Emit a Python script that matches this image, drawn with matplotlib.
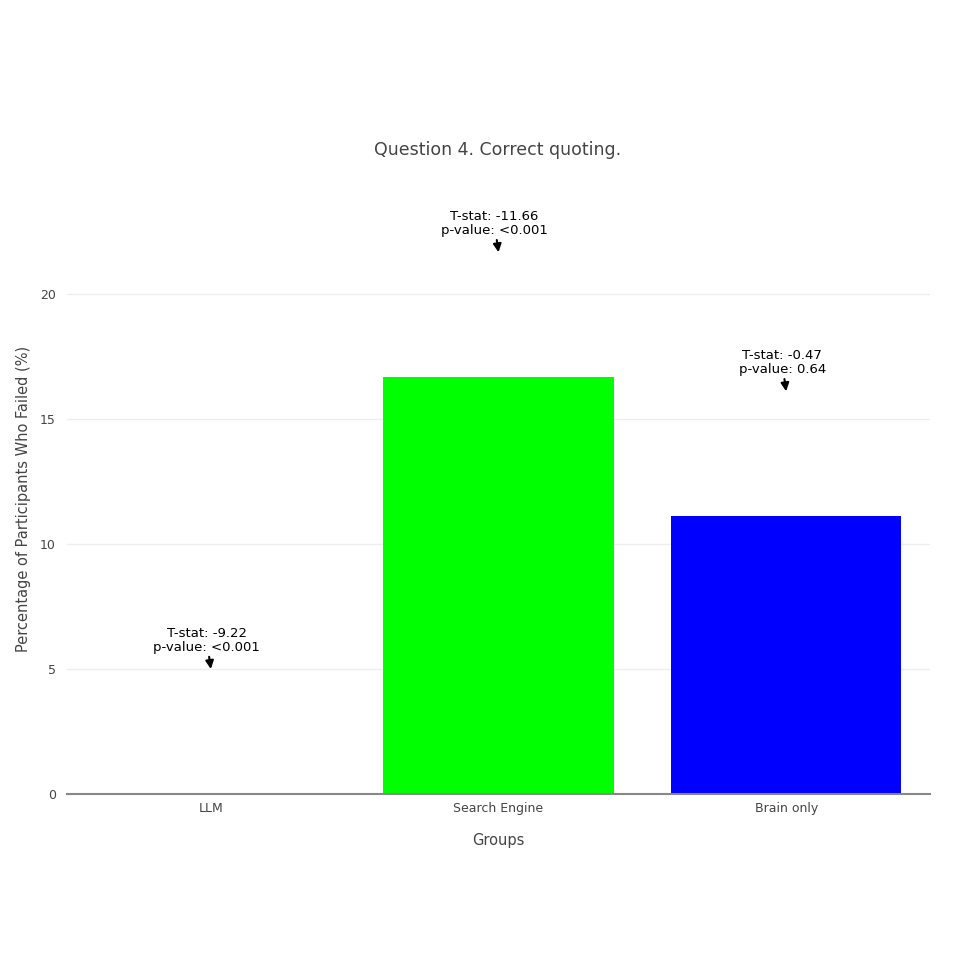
import matplotlib.pyplot as plt

groups = ['LLM', 'Search Engine', 'Brain only']
failed_pct = [0.0, 16.67, 11.11]
bar_colors = ['#ff0000', '#00ff00', '#0000ff']
t_stats = ['-9.22', '-11.66', '-0.47']
p_values = ['<0.001', '<0.001', '0.64']

fig = plt.figure(figsize=(9.8, 9.8), dpi=100)
ax = fig.add_axes([67 / 980, 186 / 980, 863 / 980, 600 / 980])

x = list(range(len(groups)))
ax.bar(x, failed_pct, width=0.8, color=bar_colors, zorder=2)

ax.set_xlim(-0.5, 2.5)
ax.set_ylim(0, 24)
ax.set_yticks([0, 5, 10, 15, 20])
ax.set_xticks(x)
ax.set_xticklabels(groups)
ax.tick_params(axis='both', length=0, labelsize=9, labelcolor='#444444')
ax.tick_params(axis='x', pad=6)
ax.tick_params(axis='y', pad=8)
ax.grid(axis='y', color='#eeeeee', linewidth=1, zorder=0)
for s in ['top', 'right', 'left']:
    ax.spines[s].set_visible(False)
ax.spines['bottom'].set_color('#888888')
ax.spines['bottom'].set_linewidth(1.5)
ax.spines['bottom'].set_zorder(3)

# axis titles placed where the reference has them
fig.text(498 / 980, 1 - 841 / 980, 'Groups', ha='center', va='center',
         fontsize=10.5, color='#444444')
fig.text(24 / 980, 1 - 499 / 980, 'Percentage of Participants Who Failed (%)',
         ha='center', va='center', rotation=90, fontsize=10.5, color='#444444')
fig.text(498 / 980, 1 - 150 / 980, 'Question 4. Correct quoting.',
         ha='center', va='center', fontsize=12.5, color='#444444')

for xi, v, t, p in zip(x, failed_pct, t_stats, p_values):
    ax.annotate('T-stat: %s\np-value: %s' % (t, p),
                xy=(xi, v + 5), xytext=(-4, 15), textcoords='offset pixels',
                ha='center', va='bottom', fontsize=9.5, color='black',
                linespacing=1.1, annotation_clip=False,
                arrowprops=dict(arrowstyle='-|>', color='black', lw=1.5,
                                mutation_scale=12, shrinkA=0, shrinkB=0))

fig.savefig('out.png', dpi=100)
